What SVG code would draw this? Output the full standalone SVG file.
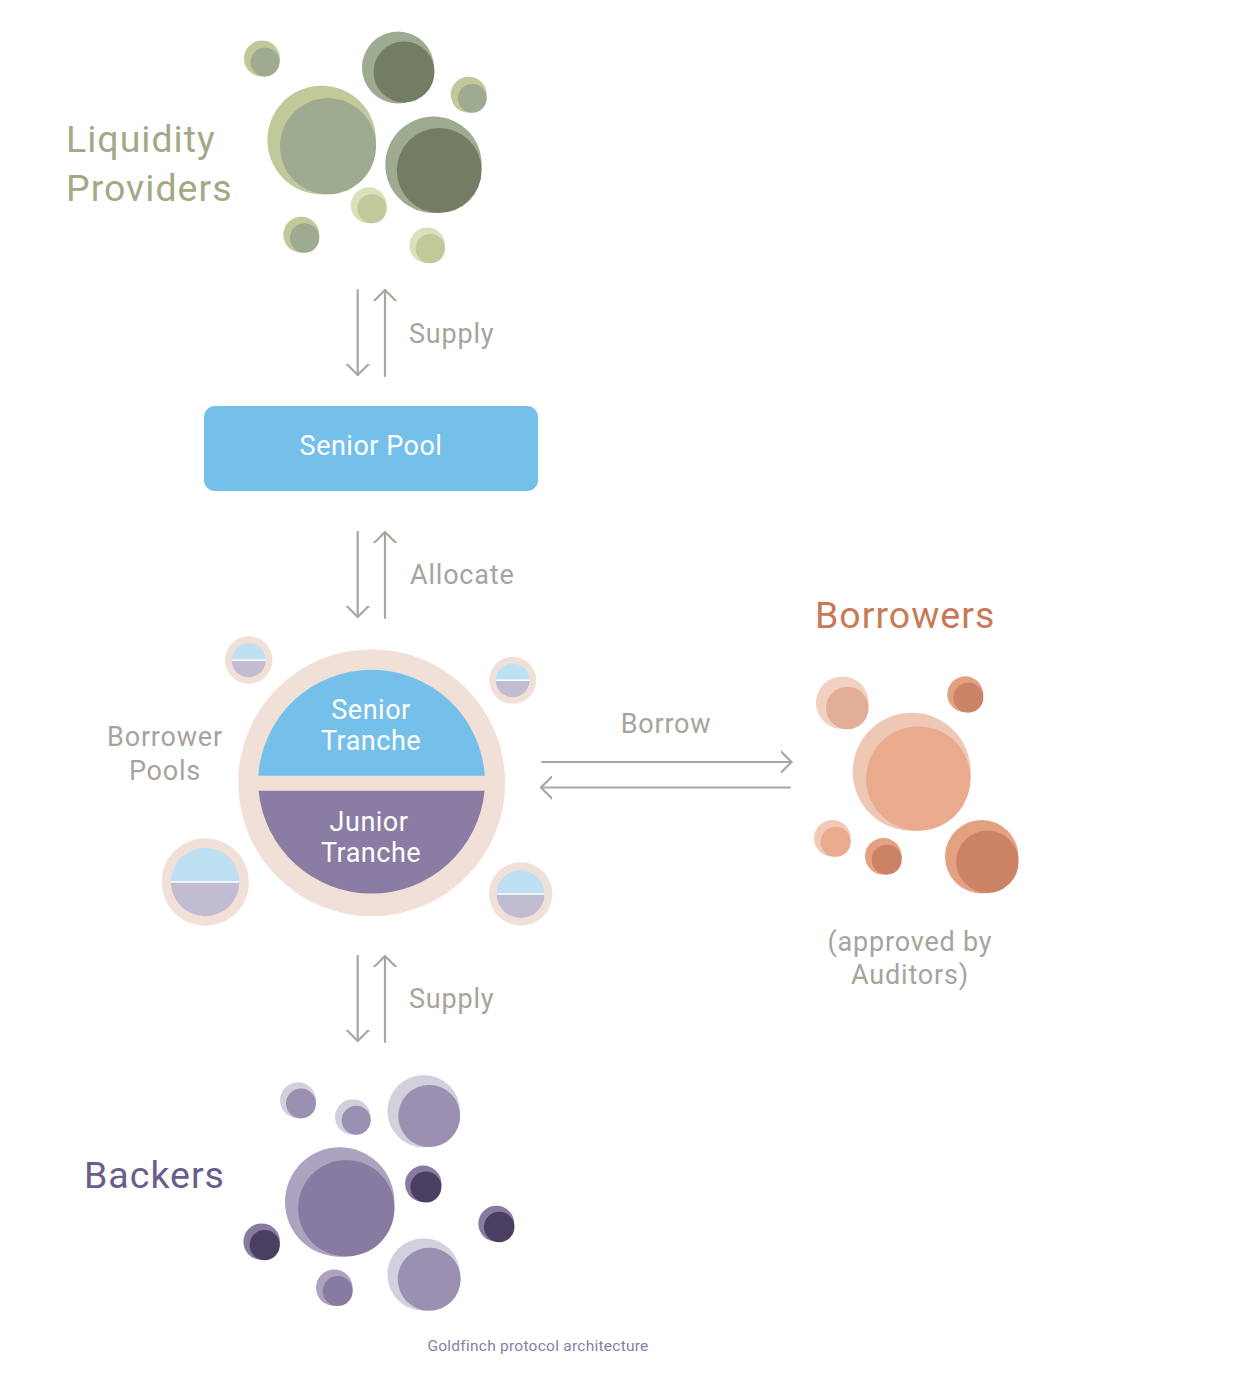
<svg xmlns="http://www.w3.org/2000/svg" width="1248" height="1384" viewBox="0 0 1248 1384">
<style>
  text { font-family: Roboto, "Liberation Sans", sans-serif; }
  .lbl { fill: #a8a39c; font-size: 27px; letter-spacing: 0.8px; }
  .title { font-size: 37.5px; letter-spacing: 1px; }
  .white { fill: #ffffff; font-size: 27px; text-anchor: middle; letter-spacing: 0.5px; }
  .arr { stroke: #aba69f; stroke-width: 2.2; fill: none; stroke-linecap: round; stroke-linejoin: round; }
  .pool-ring { fill: #f1e0d8; }
  .ps { fill: #bde0f3; }
  .pj { fill: #c2bcd3; }
  .sep { stroke: #ffffff; stroke-width: 1.5; }
</style>
<defs>
  <marker id="head" viewBox="0 0 12 24" refX="11" refY="12" markerWidth="12" markerHeight="24" markerUnits="userSpaceOnUse" orient="auto">
    <path d="M0,1 L11,12 L0,23" fill="none" stroke="#aba69f" stroke-width="2.2" stroke-linecap="round" stroke-linejoin="round"/>
  </marker>
</defs>
<rect width="1248" height="1384" fill="#ffffff"/>

<!-- Liquidity Providers -->
<g id="liquidity-providers">
  <text class="title" x="66" y="152" fill="#a3a886">Liquidity</text>
  <text class="title" x="66" y="201" fill="#a3a886">Providers</text>
  <circle cx="262" cy="58.5" r="18" fill="#c1c99b"/><circle cx="265" cy="62" r="14.5" fill="#9eab90"/>
  <circle cx="398" cy="67.5" r="36" fill="#9eab90"/><circle cx="404" cy="72" r="30.5" fill="#737d64"/>
  <circle cx="468.7" cy="94.7" r="18" fill="#c1c99b"/><circle cx="472.3" cy="98.3" r="14.4" fill="#9eab90"/>
  <circle cx="321.7" cy="140" r="54.3" fill="#c1c99b"/><circle cx="328" cy="146.3" r="48" fill="#9eab90"/>
  <circle cx="433.5" cy="164.7" r="48.2" fill="#9eab90"/><circle cx="439.2" cy="170.5" r="42.4" fill="#737d64"/>
  <circle cx="368.7" cy="205.3" r="18" fill="#d9e1ba"/><circle cx="372" cy="208.6" r="14.7" fill="#c1c99b"/>
  <circle cx="301.3" cy="234.7" r="18" fill="#c1c99b"/><circle cx="304.6" cy="238" r="14.7" fill="#9eab90"/>
  <circle cx="427.2" cy="245.3" r="17.8" fill="#d9e1ba"/><circle cx="430.3" cy="248.6" r="14.7" fill="#c1c99b"/>
</g>

<!-- Senior Pool -->
<g id="senior-pool">
  <rect x="204" y="406" width="334" height="85" rx="11" fill="#75c0ea"/>
  <text class="white" x="371" y="455">Senior Pool</text>
</g>

<!-- Borrower Pools -->
<g id="borrower-pools">
  <text class="lbl" x="165" y="746" text-anchor="middle">Borrower</text>
  <text class="lbl" x="165" y="780" text-anchor="middle">Pools</text>
  <circle cx="371.7" cy="782.7" r="133.5" class="pool-ring"/>
  <path d="M258.3,775.7 A113.5,113.5 0 0 1 484.8,775.7 Z" fill="#75c0ea"/>
  <path d="M258.6,790.7 L484.6,790.7 A113.5,113.5 0 0 1 258.6,790.7 Z" fill="#8a7ca2"/>
  <text class="white" x="371" y="719">Senior</text>
  <text class="white" x="371" y="750">Tranche</text>
  <text class="white" x="369" y="831">Junior</text>
  <text class="white" x="371" y="862">Tranche</text>

  <g id="pool-small-1">
    <circle cx="248.7" cy="660" r="23.7" class="pool-ring"/>
    <path d="M231.7,660.3 A17,17 0 0 1 265.7,660.3 Z" class="ps"/>
    <path d="M231.7,660.3 A17,17 0 0 0 265.7,660.3 Z" class="pj"/>
    <line x1="231.7" y1="660.3" x2="265.7" y2="660.3" class="sep"/>
  </g>
  <g id="pool-small-2">
    <circle cx="512.7" cy="680.3" r="23.5" class="pool-ring"/>
    <path d="M495.7,680.3 A16.9,16.9 0 0 1 529.5,680.3 Z" class="ps"/>
    <path d="M495.7,680.3 A16.9,16.9 0 0 0 529.5,680.3 Z" class="pj"/>
    <line x1="495.7" y1="680.3" x2="529.5" y2="680.3" class="sep"/>
  </g>
  <g id="pool-small-3">
    <circle cx="205.3" cy="882" r="43.7" class="pool-ring"/>
    <path d="M171,882 A34.2,34.2 0 0 1 239.4,882 Z" class="ps"/>
    <path d="M171,882 A34.2,34.2 0 0 0 239.4,882 Z" class="pj"/>
    <line x1="171" y1="882" x2="239.4" y2="882" class="sep" stroke-width="2"/>
  </g>
  <g id="pool-small-4">
    <circle cx="520.7" cy="894" r="31.7" class="pool-ring"/>
    <path d="M496.7,894 A23.9,23.9 0 0 1 544.5,894 Z" class="ps"/>
    <path d="M496.7,894 A23.9,23.9 0 0 0 544.5,894 Z" class="pj"/>
    <line x1="496.7" y1="894" x2="544.5" y2="894" class="sep"/>
  </g>
</g>

<!-- Borrowers -->
<g id="borrowers">
  <text class="title" x="815" y="628" fill="#c87a57">Borrowers</text>
  <circle cx="842.3" cy="702.7" r="26.3" fill="#f2d1c1"/><circle cx="847.3" cy="708" r="21.3" fill="#e3ae98"/>
  <circle cx="965.3" cy="694.3" r="18" fill="#e4a182"/><circle cx="968.3" cy="697.7" r="15" fill="#cc8365"/>
  <circle cx="911.7" cy="771.7" r="59" fill="#eec7b5"/><circle cx="918.3" cy="778.6" r="52.2" fill="#e9aa8d"/>
  <circle cx="832.3" cy="838.3" r="18.3" fill="#f1c9b6"/><circle cx="835.7" cy="841.8" r="15" fill="#e9aa8d"/>
  <circle cx="883.3" cy="856.3" r="18.3" fill="#e4a182"/><circle cx="886.7" cy="859.7" r="15" fill="#cc8365"/>
  <circle cx="981.7" cy="856.7" r="36.7" fill="#e4a182"/><circle cx="987.4" cy="861.8" r="31.2" fill="#cc8365"/>
  <text class="lbl" x="910" y="951" text-anchor="middle">(approved by</text>
  <text class="lbl" x="910" y="984" text-anchor="middle">Auditors)</text>
</g>

<!-- Backers -->
<g id="backers">
  <text class="title" x="84" y="1188" fill="#6a5d8c">Backers</text>
  <circle cx="298" cy="1100.3" r="18" fill="#d3d0dd"/><circle cx="301" cy="1103.5" r="15" fill="#9a90b1"/>
  <circle cx="352.8" cy="1117" r="17.8" fill="#d3d0dd"/><circle cx="356.2" cy="1120.3" r="14.5" fill="#9a90b1"/>
  <circle cx="423.7" cy="1111.2" r="36.3" fill="#d3d0dd"/><circle cx="429.2" cy="1116" r="31" fill="#9a90b1"/>
  <circle cx="339.7" cy="1202" r="54.7" fill="#ada3c0"/><circle cx="346.3" cy="1208.3" r="48.2" fill="#887ba1"/>
  <circle cx="423.3" cy="1183.8" r="18.2" fill="#887ba1"/><circle cx="425.9" cy="1187" r="15.5" fill="#4a3f60"/>
  <circle cx="496.3" cy="1223.7" r="18" fill="#887ba1"/><circle cx="499.2" cy="1227" r="15.2" fill="#4a3f60"/>
  <circle cx="261.7" cy="1241.7" r="18.3" fill="#887ba1"/><circle cx="264.7" cy="1245.1" r="15.1" fill="#4a3f60"/>
  <circle cx="334.3" cy="1287.7" r="18.3" fill="#ada3c0"/><circle cx="337.7" cy="1291.1" r="15" fill="#887ba1"/>
  <circle cx="423.7" cy="1274.5" r="36.3" fill="#d3d0dd"/><circle cx="429.2" cy="1279.3" r="31.5" fill="#9a90b1"/>
</g>

<!-- Connectors -->
<g id="connectors">
  <line class="arr" x1="357.7" y1="290" x2="357.7" y2="375" marker-end="url(#head)"/>
  <line class="arr" x1="385" y1="376" x2="385" y2="290" marker-end="url(#head)"/>
  <text class="lbl" x="409" y="343">Supply</text>

  <line class="arr" x1="357.7" y1="532" x2="357.7" y2="617" marker-end="url(#head)"/>
  <line class="arr" x1="385" y1="618" x2="385" y2="532" marker-end="url(#head)"/>
  <text class="lbl" x="410" y="584">Allocate</text>

  <line class="arr" x1="542" y1="762" x2="791.5" y2="762" marker-end="url(#head)"/>
  <line class="arr" x1="790" y1="787.5" x2="541" y2="787.5" marker-end="url(#head)"/>
  <text class="lbl" x="666" y="733" text-anchor="middle">Borrow</text>

  <line class="arr" x1="357.7" y1="956" x2="357.7" y2="1041" marker-end="url(#head)"/>
  <line class="arr" x1="385" y1="1042" x2="385" y2="956" marker-end="url(#head)"/>
  <text class="lbl" x="409" y="1008">Supply</text>
</g>

<text x="538" y="1351" text-anchor="middle" font-size="15.5" letter-spacing="0.25" fill="#8680a6">Goldfinch protocol architecture</text>
</svg>
